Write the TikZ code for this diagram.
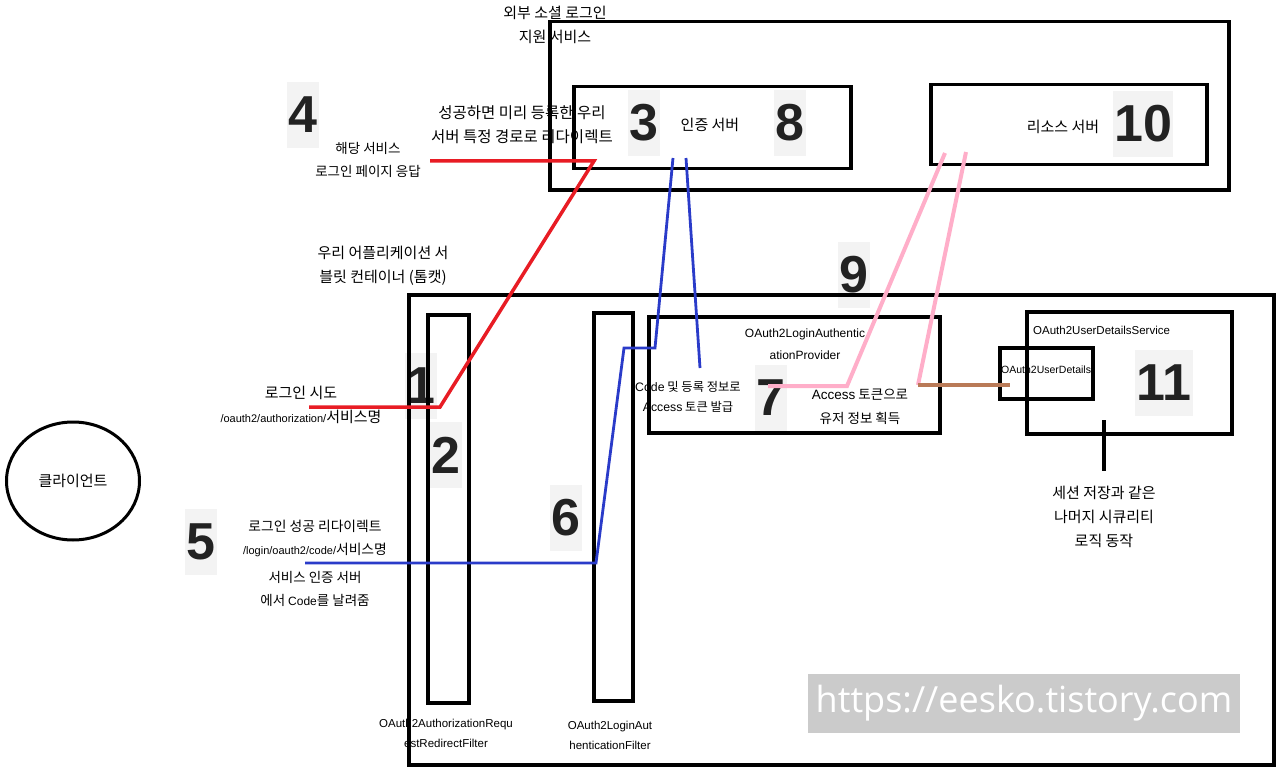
\documentclass[tikz,border=0pt]{standalone}
\usepackage{fontspec}
\setmainfont{Noto Sans CJK KR}
\newfontfamily\latinfont{Liberation Sans}
\newfontfamily\markfont{Open Sans}
\definecolor{paintred}{HTML}{E81C24}
\definecolor{paintblue}{HTML}{2A3BC9}
\definecolor{paintpink}{HTML}{FFAEC9}
\definecolor{paintbrown}{HTML}{B97A57}
\definecolor{numbg}{HTML}{F3F3F3}
\definecolor{numtxt}{HTML}{222222}
\definecolor{markgray}{HTML}{CBCBCB}
\usetikzlibrary{positioning,shapes.geometric}

\begin{document}
\begin{tikzpicture}[x=1pt,y=-1pt,
  box/.style={draw=black, line width=3.5pt, inner sep=0pt, anchor=north west},
  lbl/.style={align=center, inner sep=0pt, font=\fontsize{15}{24}\selectfont},
  eng/.style={align=center, inner sep=0pt, font=\latinfont\fontsize{11.5}{20}\selectfont},
  num/.style={fill=numbg, text=numtxt, inner xsep=1.5pt, inner ysep=0pt, minimum height=66pt, font=\latinfont\bfseries\fontsize{52}{52}\selectfont},
  redline/.style={draw=paintred, line width=3.5pt},
  blueline/.style={draw=paintblue, line width=2.8pt},
  pinkline/.style={draw=paintpink, line width=4pt},
]
  \useasboundingbox (0,0) rectangle (1280,773);

  % numbers
  \node[num] (n1) at (421,386) {1};
  \node[num] (n2) at (446,455) {2};
  \node[num] (n3) at (644,123) {3};
  \node[num] (n4) at (303,115) {4};
  \node[num] (n5) at (201,542) {5};
  \node[num] (n6) at (566,518) {6};
  \node[num] (n7) at (771,398) {7};
  \node[num] (n8) at (790,123) {8};
  \node[num] (n9) at (854,275) {9};
  \node[num] (n10) at (1143,124) {10};
  \node[num] (n11) at (1164,383) {11};

  % texts
  \node[lbl] (socialtxt) at (555,25) {외부 소셜 로그인\\지원 서비스};
  \node[lbl, font=\fontsize{15.5}{24}\selectfont] (redirtxt) at (522,125) {성공하면 미리 등록한 우리\\서버 특정 경로로 리다이렉트};
  \node[lbl, font=\fontsize{13.5}{23}\selectfont] (pagetxt) at (368,160) {해당 서비스\\로그인 페이지 응답};
  \node[lbl] (apptxt) at (383,266) {우리 어플리케이션 서\\블릿 컨테이너 (톰캣)};
  \node[lbl] (authtxt) at (710,125) {인증 서버};
  \node[lbl] (restxt) at (1063,127) {리소스 서버};
  \node[lbl] (trytxt) at (301,405) {로그인 시도\\{\latinfont\fontsize{11}{11}\selectfont/oauth2/authorization/}서비스명};
  \node[lbl, font=\fontsize{13.8}{23}\selectfont] (oktxt) at (315,538) {로그인 성공 리다이렉트\\{\latinfont\fontsize{11}{11}\selectfont/login/oauth2/code/}서비스명};
  \node[lbl, font=\fontsize{13.5}{23}\selectfont] (codetxt) at (315,589) {서비스 인증 서버\\에서 {\latinfont\fontsize{12}{12}\selectfont Code}를 날려줌};
  \node[eng, font=\latinfont\fontsize{12}{22}\selectfont] (provtxt) at (805,344) {OAuth2LoginAuthentic\\ationProvider};
  \node[lbl, font=\fontsize{12.3}{20}\selectfont] (issuetxt) at (688,397) {{\latinfont Code} 및 등록 정보로\\{\latinfont Access} 토큰 발급};
  \node[lbl, font=\fontsize{13.5}{24}\selectfont] (usertxt) at (860,407) {{\latinfont Access} 토큰으로\\유저 정보 획득};
  \node[eng, anchor=west] (udstxt) at (1033,330) {OAuth2UserDetailsService};
  \node[eng, anchor=west, font=\latinfont\fontsize{10.5}{12}\selectfont] (udtxt) at (1001,370) {OAuth2UserDetails};
  \node[lbl] (sesstxt) at (1104,517) {세션 저장과 같은\\나머지 시큐리티\\로직 동작};
  \node[eng] (f1txt) at (446,733) {OAuth2AuthorizationRequ\\estRedirectFilter};
  \node[eng] (f2txt) at (610,735) {OAuth2LoginAut\\henticationFilter};

  % boxes
  \node[box, minimum width=679pt, minimum height=168pt] (social) at (548,20) {};
  \node[box, minimum width=277pt, minimum height=82pt] (authsrv) at (572,85) {};
  \node[box, minimum width=276pt, minimum height=80pt] (ressrv) at (929,83) {};
  \node[box, minimum width=865pt, minimum height=470pt] (app) at (407,293) {};
  \node[box, minimum width=41pt, minimum height=388pt] (filter1) at (426,313) {};
  \node[box, minimum width=39pt, minimum height=388pt] (filter2) at (592,311) {};
  \node[box, minimum width=291pt, minimum height=116pt] (provider) at (647,315) {};
  \node[box, minimum width=205pt, minimum height=122pt] (uds) at (1025,310) {};
  \node[box, minimum width=93pt, minimum height=51pt] (ud) at (998,346) {};
  \node[draw, ellipse, line width=3pt, minimum width=133pt, minimum height=118pt, font=\fontsize{15}{15}\selectfont] (client) at (73,481) {클라이언트};
  \node[fill=markgray, text=white, inner sep=0pt, minimum width=432pt, minimum height=59pt, font=\markfont\fontsize{36}{36}\selectfont] (mark) at (1024,703) {https://eesko.tistory.com};

  % flow lines
  \coordinate (r1) at (430,161); \coordinate (r2) at (594,161);
  \coordinate (r3) at (440,407); \coordinate (r4) at (309,407);
  \coordinate (b1) at (305,563); \coordinate (b2) at (596,563);
  \coordinate (b3) at (624,348); \coordinate (b4) at (655,348);
  \coordinate (b5) at (673,158); \coordinate (b6) at (686,158);
  \coordinate (b7) at (700,368);
  \coordinate (p1) at (768,386); \coordinate (p2) at (847,386);
  \coordinate (p3) at (945,153); \coordinate (p4) at (966,152);
  \coordinate (p5) at (918,385); \coordinate (w1) at (1010,385);
  \coordinate (s1) at (1104,420); \coordinate (s2) at (1104,471);
  \draw[redline] (r1) -- (r2) -- (r3) -- (r4);
  \draw[blueline] (b1) -- (b2) -- (b3) -- (b4) -- (b5);
  \draw[blueline] (b6) -- (b7);
  \draw[pinkline] (p1) -- (p2) -- (p3);
  \draw[pinkline] (p4) -- (p5);
  \draw[draw=paintbrown, line width=4pt] (p5) -- (w1);
  \draw[line width=4pt] (s1) -- (s2);
\end{tikzpicture}
\end{document}
